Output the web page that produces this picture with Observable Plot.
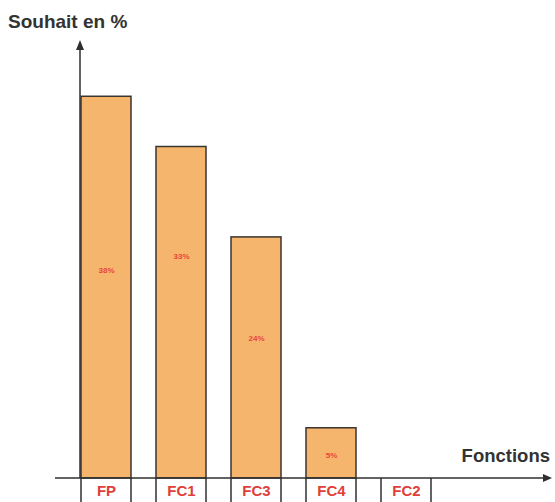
<!DOCTYPE html>
<html><head><meta charset="utf-8">
<script src="https://cdn.jsdelivr.net/npm/d3@7"></script>
<script src="https://cdn.jsdelivr.net/npm/@observablehq/plot@0.6"></script>
<style>body{margin:0;background:#fff}svg{display:block}</style>
</head><body><div id="chart"></div>
<script>
const categories = ["FP", "FC1", "FC3", "FC4", "FC2"];
const values = [38, 33, 24, 5, 0];
const valueLabels = ["38%", "33%", "24%", "5%", ""];
const labelAt = [20.7, 22.1, 13.9, 2.3, 0];

const data = categories.map((c, i) => ({cat: c, v: values[i], lab: valueLabels[i], ly: labelAt[i]}));
const font = "'Liberation Sans', Arial, sans-serif";

const plot = Plot.plot({
  width: 555, height: 502,
  marginLeft: 68.5, marginRight: 111.5, marginTop: 36, marginBottom: 24,
  style: {fontFamily: font, background: "#fff"},
  x: {domain: categories, paddingInner: 1/3, paddingOuter: 1/6, axis: null, label: null},
  y: {domain: [0, 44], axis: null},
  marks: [
    Plot.barY(data, {x: "cat", y: "v", fill: "#f6b56c", stroke: "#3b3530", strokeWidth: 1.5}),
    Plot.text(data.filter(d => d.lab), {x: "cat", y: "ly", text: "lab", fill: "#e8453f", fontSize: 8, fontWeight: "bold"}),
    Plot.axisX({tickSize: 0, tickPadding: 7, label: null, fill: "#e0403a", fontSize: 15, fontWeight: "bold"})
  ]
});

const svg = d3.select(plot);
const x = plot.scale("x"), y = plot.scale("y");
const y0 = y.apply(0);
const bw = x.bandwidth;
const g = svg.append("g").attr("stroke", "#2f2f2f").attr("fill", "#2f2f2f");
// tick marks at bar edges
categories.forEach(c => {
  const xs = x.apply(c);
  [xs, xs + bw].forEach(xx => g.append("line").attr("x1", xx).attr("x2", xx).attr("y1", y0).attr("y2", 502).attr("stroke-width", 1.5));
});
// x axis line with arrow
const axLeft = x.apply(categories[0]) - 26;
g.append("line").attr("x1", axLeft).attr("x2", 546).attr("y1", y0).attr("y2", y0).attr("stroke-width", 1.5);
g.append("path").attr("d", `M552,${y0} L543,${y0-4} L543,${y0+4} Z`).attr("stroke", "none");
// y axis line with arrow
const ax = x.apply(categories[0]) - 1;
const yTop = y.apply(43.6);
g.append("line").attr("x1", ax).attr("x2", ax).attr("y1", y0).attr("y2", yTop + 6).attr("stroke-width", 1.5);
g.append("path").attr("d", `M${ax},${yTop} L${ax-4},${yTop+10} L${ax+4},${yTop+10} Z`).attr("stroke", "none");
// titles
svg.append("text").attr("x", 8).attr("y", 28).attr("text-anchor", "start").attr("fill", "#333").attr("font-size", 19).attr("font-weight", "bold").attr("font-family", font).text("Souhait en %");
svg.append("text").attr("x", 550).attr("y", 462).attr("text-anchor", "end").attr("fill", "#333").attr("font-size", 18.5).attr("font-weight", "bold").attr("font-family", font).text("Fonctions");

document.getElementById("chart").append(plot);
</script></body></html>
